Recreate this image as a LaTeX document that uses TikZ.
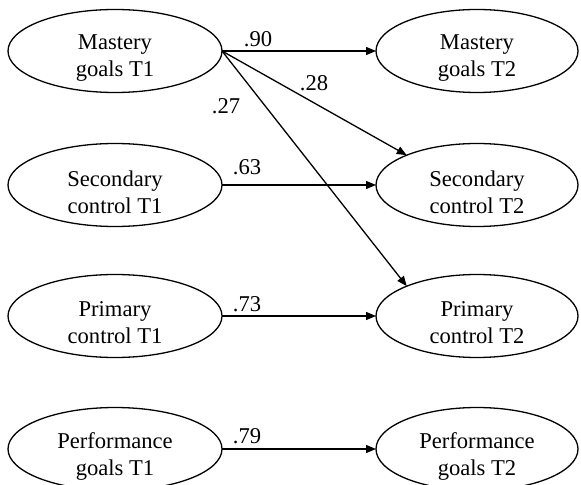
\documentclass[tikz,border=0pt]{standalone}
\usepackage{fontspec}
\setmainfont{Liberation Serif}
\usetikzlibrary{shapes.geometric,arrows.meta}
\begin{document}
\begin{tikzpicture}[x=0.5pt,y=-0.5pt,
  lat/.style={draw, ellipse, line width=0.65pt, inner sep=0pt, outer sep=0pt, minimum height=41.5pt},
  latL/.style={lat, minimum width=107pt},
  latR/.style={lat, minimum width=101pt},
  vname/.style={align=center, font=\fontsize{11.3}{13.5}\selectfont, inner sep=0pt, yshift=-3.5pt},
  coef/.style={font=\fontsize{11.3}{13}\selectfont, inner sep=0pt},
  pathway/.style={line width=0.65pt, -{Triangle[length=5pt,width=4pt]}}]
\useasboundingbox (0,0) rectangle (581,485);

% time 1 constructs
\node[latL] (m1) at (115,51)  {};
\node[latL] (s1) at (115,185) {};
\node[latL] (p1) at (115,316) {};
\node[latL] (f1) at (115,449) {};
% time 2 constructs
\node[latR] (m2) at (477,51)  {};
\node[latR] (s2) at (477,185) {};
\node[latR] (p2) at (477,316) {};
\node[latR] (f2) at (477,449) {};

% construct names
\node[vname] (m1t) at (m1.center) {Mastery\\goals T1};
\node[vname] (s1t) at (s1.center) {Secondary\\control T1};
\node[vname] (p1t) at (p1.center) {Primary\\control T1};
\node[vname] (f1t) at (f1.center) {Performance\\goals T1};
\node[vname] (m2t) at (m2.center) {Mastery\\goals T2};
\node[vname] (s2t) at (s2.center) {Secondary\\control T2};
\node[vname] (p2t) at (p2.center) {Primary\\control T2};
\node[vname] (f2t) at (f2.center) {Performance\\goals T2};

% stability paths
\draw[pathway] (m1.east) -- (m2.west);
\draw[pathway] (s1.east) -- (s2.west);
\draw[pathway] (p1.east) -- (p2.west);
\draw[pathway] (f1.east) -- (f2.west);
% cross-lagged paths
\draw[pathway] (m1.east) -- (s2.157);
\draw[pathway] (m1.east) -- (p2.157);

% path coefficients
\node[coef] (c90) at (258,39)  {.90};
\node[coef] (c28) at (314,83)  {.28};
\node[coef] (c27) at (226,106) {.27};
\node[coef] (c63) at (247,167) {.63};
\node[coef] (c73) at (247,304) {.73};
\node[coef] (c79) at (247,436) {.79};
\end{tikzpicture}
\end{document}
